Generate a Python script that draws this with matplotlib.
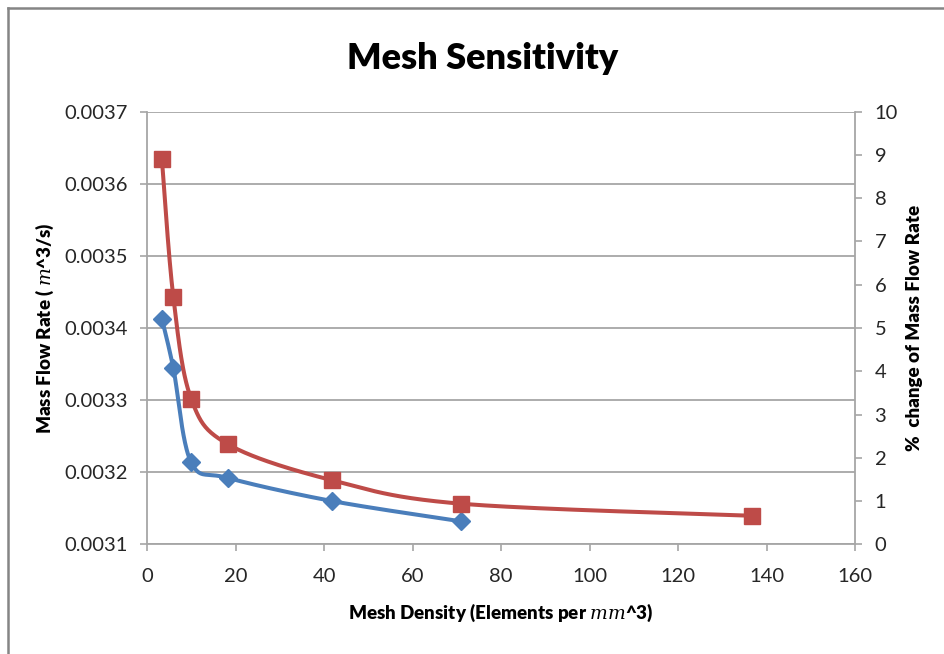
import numpy as np
import matplotlib
matplotlib.use("Agg")
import matplotlib.pyplot as plt
from matplotlib.lines import Line2D

plt.rcParams['font.family'] = ['Lato', 'DejaVu Sans']
plt.rcParams['mathtext.fontset'] = 'dejavuserif'

# data
density = [3.3, 5.9, 9.9, 18.3, 41.8, 70.8]
mass_flow = [0.003413, 0.003344, 0.003214, 0.003192, 0.003160, 0.003132]
density_pct = [3.3, 5.9, 9.9, 18.3, 41.8, 70.8, 136.6]
pct_change = [8.91, 5.71, 3.37, 2.31, 1.48, 0.94, 0.66]

blue = "#4A7EBB"
red = "#BE4B48"
grid_col = "#A6A6A6"

fig = plt.figure(figsize=(9.44, 6.54), dpi=100)
ax = fig.add_axes([0.156, 0.1677, 0.7499, 0.6615])
ax2 = ax.twinx()


def smooth(axis, xs, ys, n=40):
    # excel-style bezier smoothing done in screen space
    pts = axis.transData.transform(np.column_stack([xs, ys]))
    p = np.vstack([pts[0], pts, pts[-1]])
    out = []
    t = np.linspace(0, 1, n)[:, None]
    for i in range(1, len(p) - 2):
        p0, p3 = p[i], p[i + 1]
        c1 = p0 + (p[i + 1] - p[i - 1]) / 6.0
        c2 = p3 - (p[i + 2] - p[i]) / 6.0
        seg = ((1 - t) ** 3) * p0 + 3 * ((1 - t) ** 2) * t * c1 + 3 * (1 - t) * t ** 2 * c2 + t ** 3 * p3
        out.append(seg)
    out = np.vstack(out)
    d = axis.transData.inverted().transform(out)
    return d[:, 0], d[:, 1]


ax.set_xlim(0, 160)
ax.set_ylim(0.0031, 0.0037)
ax2.set_ylim(0, 10)

sx, sy = smooth(ax, density, mass_flow)
ax.plot(sx, sy, color=blue, lw=2.9, solid_capstyle='round', zorder=3)
ax.plot(density, mass_flow, ls='none', marker='D', ms=9, color=blue, zorder=4)

sx2, sy2 = smooth(ax2, density_pct, pct_change)
ax2.plot(sx2, sy2, color=red, lw=2.9, solid_capstyle='round', zorder=3)
ax2.plot(density_pct, pct_change, ls='none', marker='s', ms=12, color=red, zorder=4)

ax.set_xticks(np.arange(0, 161, 20))
ax.set_yticks(np.arange(0.0031, 0.00371, 0.0001))
ax.set_yticklabels([f"{v:.4f}" for v in np.arange(0.0031, 0.00371, 0.0001)])
ax2.set_yticks(range(0, 11))

ax.yaxis.grid(True, color=grid_col, lw=1.3)
ax.set_axisbelow(True)

for a in (ax, ax2):
    a.spines['top'].set_visible(False)
    for s in ('left', 'right', 'bottom'):
        a.spines[s].set_color(grid_col)
        a.spines[s].set_linewidth(1.3)
    a.tick_params(colors=grid_col, labelcolor='#262626', labelsize=14.5, length=5, width=1.2)
ax.spines['right'].set_visible(False)
ax2.spines['left'].set_visible(False)
ax2.spines['bottom'].set_visible(False)
ax.tick_params(axis='x', pad=12)
ax.tick_params(axis='y', pad=9)
ax2.tick_params(axis='y', pad=9)

ax.set_xlabel(r"Mesh Density (Elements per $mm$^3)", fontsize=13.5, fontweight='heavy', labelpad=12)
ax.set_ylabel(r"Mass Flow Rate ( $m$^3/s)", fontsize=13.5, fontweight='heavy', labelpad=6)
ax2.set_ylabel("%  change of Mass Flow Rate", fontsize=13.5, fontweight='heavy', labelpad=6)
fig.text(0.511, 0.911, "Mesh Sensitivity", fontsize=26, fontweight='heavy', ha='center', va='center')

# chart frame (only top and left edges visible)
fig.add_artist(Line2D([7.5 / 944, 1], [1 - 8 / 654, 1 - 8 / 654], color='#858585', lw=1.8, transform=fig.transFigure))
fig.add_artist(Line2D([7.5 / 944, 7.5 / 944], [0, 1 - 8 / 654], color='#858585', lw=1.8, transform=fig.transFigure))

fig.savefig("out.png", dpi=100)
